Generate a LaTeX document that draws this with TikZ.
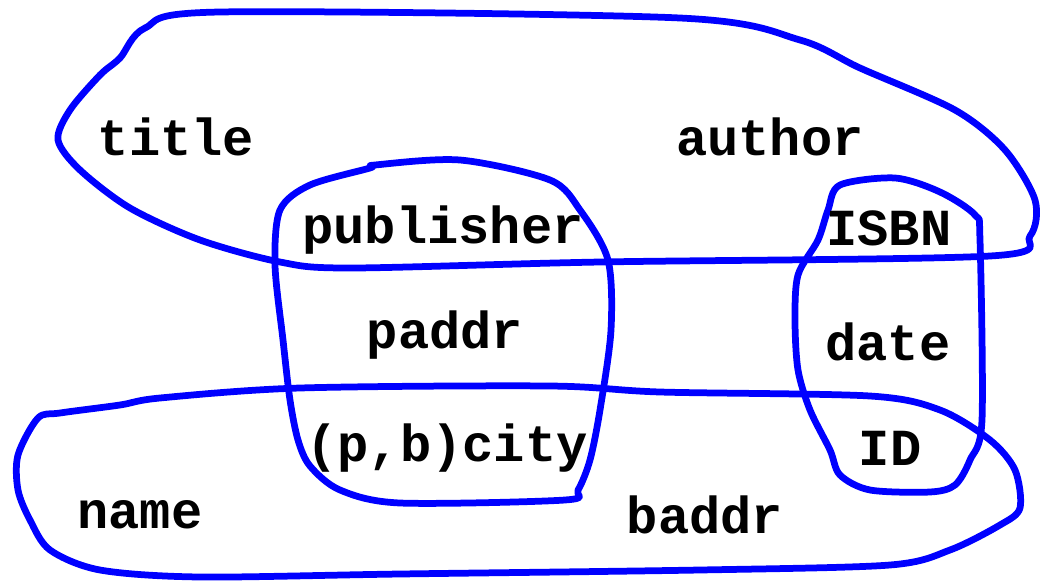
\documentclass[tikz,border=0pt]{standalone}
\usepackage{fontspec}
\setmonofont{Liberation Mono}
\usepackage{tikz}

\begin{document}
\begin{tikzpicture}[x=0.025cm,y=-0.025cm,
    blob/.style={draw=blue,line width=4.8pt,line join=round},
    attr/.style={font=\fontsize{37}{40}\selectfont\ttfamily\bfseries,inner sep=0pt}]
            \useasboundingbox (0,0) rectangle (1040,580);

            % top set
            \draw[blob] plot[smooth cycle,tension=0.5] coordinates {(120,58) (145,28) (220,12) (680,18) (800,40) (860,68)
                (955,110) (1005,150) (1035,200) (1030,236) (990,256) (600,262) (350,268) (280,262)
                (200,240) (130,208) (80,170) (58,140) (70,110) (100,75)};
            % bottom set
            \draw[blob] plot[smooth cycle,tension=0.5] coordinates {(38,418) (60,413) (120,405) (160,398) (300,388) (550,386)
                (660,392) (870,396) (940,410) (990,440) (1015,470) (1020,508) (1000,525) (950,550)
                (890,565) (700,570) (400,574) (200,577) (100,570) (50,550) (30,520) (18,490) (18,455)};
            % left set
            \draw[blob] plot[smooth cycle,tension=0.5] coordinates {(375,165) (460,160) (550,180) (580,210) (608,260)
                (611,330) (600,410) (590,460) (578,490) (565,500) (400,503) (340,490) (310,466)
                (298,440) (290,400) (283,340) (275,265) (280,210) (310,185) (370,168)};
            % right set
            \draw[blob] plot[smooth cycle,tension=0.5] coordinates {(840,185) (895,178) (940,192) (975,215) (980,240)
                (982,420) (970,460) (955,485) (930,492) (870,490) (840,475) (830,450) (810,410)
                (798,370) (795,320) (798,275) (818,240) (828,210)};

            % attributes
            \node[attr] (title) at (176,137) {title};
            \node[attr] (author) at (770,137) {author};
            \node[attr] (publisher) at (443,230) {publisher};
            \node[attr] (isbn) at (889,228) {ISBN};
            \node[attr] (paddr) at (445,335) {paddr};
            \node[attr] (date) at (888,342) {date};
            \node[attr] (city) at (447,448) {(p,b)city};
            \node[attr] (id) at (890,448) {ID};
            \node[attr] (name) at (140,515) {name};
            \node[attr] (baddr) at (705,515) {baddr};
\end{tikzpicture}
\end{document}
